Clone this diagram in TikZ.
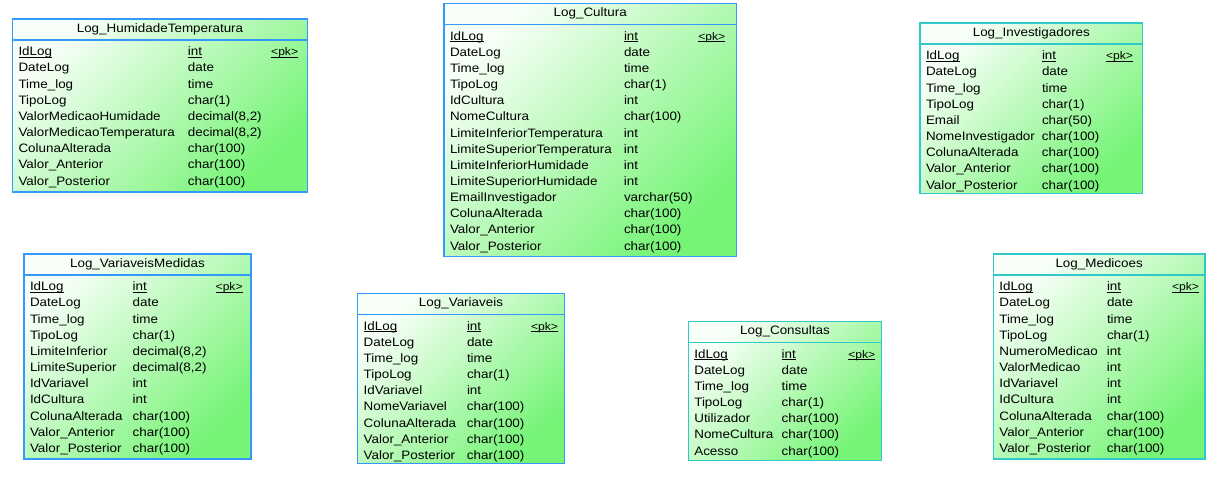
\documentclass[tikz,border=0pt]{standalone}
\usepackage{fontspec}
\setmainfont{Liberation Sans}[FakeStretch=1.1]
\usetikzlibrary{positioning}

\definecolor{tblblue}{RGB}{51,153,255}
\definecolor{tblteal}{RGB}{48,200,200}
\definecolor{tblgreen}{RGB}{118,244,118}
\definecolor{tblpale}{RGB}{248,255,248}
\setlength{\tabcolsep}{0pt}
\newcommand{\tblfont}{\fontsize{12.2}{16.15}\selectfont}
\newsavebox{\pkbox}
\newcommand{\pk}[1]{\leavevmode\sbox{\pkbox}{#1}\rlap{\rule[-2pt]{\wd\pkbox}{0.7pt}}\usebox{\pkbox}}
\newcommand{\pktag}{\pk{\fontsize{11}{16.15}\selectfont <pk>}}

\tikzset{
	tblbox/.style={draw=#1, line width=1.4pt, inner sep=0pt, outer sep=0pt, top color=tblpale, bottom color=tblgreen, shading angle=45, anchor=north west},
	tblhead/.style={inner sep=0pt, outer sep=0pt, minimum height=21pt, font=\tblfont},
	tblrule/.style={draw=#1, line width=1.4pt},
	tblrows/.style={inner sep=0pt, outer sep=0pt, anchor=north west, font=\tblfont, align=left},
}

% #1 name, #2 border, #3 top left, #4 width, #5 height, #6 title, #7 #8 column widths, #9 rows
\newcommand{\logtable}[9]{%
	\node[tblbox=#2, minimum width=#4, minimum height=#5] (#1) at (#3) {};
	\node[tblhead, minimum width=#4, anchor=north] (#1-head) at (#1.north) {#6};
	\draw[tblrule=#2] (#1-head.south west) -- (#1-head.south east);
	\node[tblrows] (#1-rows) at ([xshift=6pt, yshift=-4.5pt]#1-head.south west)
		{\begin{tabular}{@{}p{#7pt}p{#8pt}l@{}}#9\end{tabular}};
}

\begin{document}
\begin{tikzpicture}[x=1pt, y=-1pt]
	\useasboundingbox (0,0) rectangle (1225,490);

	\logtable{ht}{tblblue}{12.5,19}{295}{173}{Log\_HumidadeTemperatura}{169.4}{83.3}{%
		\pk{IdLog} & \pk{int} & \pktag\\
		DateLog & date & \\
		Time\_log & time & \\
		TipoLog & char(1) & \\
		ValorMedicaoHumidade & decimal(8,2) & \\
		ValorMedicaoTemperatura & decimal(8,2) & \\
		ColunaAlterada & char(100) & \\
		Valor\_Anterior & char(100) & \\
		Valor\_Posterior & char(100) & }

	\logtable{cul}{tblblue}{444,3.3}{292.5}{253.4}{Log\_Cultura}{174}{74.3}{%
		\pk{IdLog} & \pk{int} & \pktag\\
		DateLog & date & \\
		Time\_log & time & \\
		TipoLog & char(1) & \\
		IdCultura & int & \\
		NomeCultura & char(100) & \\
		LimiteInferiorTemperatura & int & \\
		LimiteSuperiorTemperatura & int & \\
		LimiteInferiorHumidade & int & \\
		LimiteSuperiorHumidade & int & \\
		EmailInvestigador & varchar(50) & \\
		ColunaAlterada & char(100) & \\
		Valor\_Anterior & char(100) & \\
		Valor\_Posterior & char(100) & }

	\logtable{inv}{tblteal}{920,23}{222.7}{170.3}{Log\_Investigadores}{116}{64}{%
		\pk{IdLog} & \pk{int} & \pktag\\
		DateLog & date & \\
		Time\_log & time & \\
		TipoLog & char(1) & \\
		Email & char(50) & \\
		NomeInvestigador & char(100) & \\
		ColunaAlterada & char(100) & \\
		Valor\_Anterior & char(100) & \\
		Valor\_Posterior & char(100) & }

	\logtable{vm}{tblblue}{24,254}{227}{205}{Log\_VariaveisMedidas}{102.7}{83}{%
		\pk{IdLog} & \pk{int} & \pktag\\
		DateLog & date & \\
		Time\_log & time & \\
		TipoLog & char(1) & \\
		LimiteInferior & decimal(8,2) & \\
		LimiteSuperior & decimal(8,2) & \\
		IdVariavel & int & \\
		IdCultura & int & \\
		ColunaAlterada & char(100) & \\
		Valor\_Anterior & char(100) & \\
		Valor\_Posterior & char(100) & }

	\logtable{var}{tblblue}{357.7,293.3}{206.6}{170}{Log\_Variaveis}{103.3}{64}{%
		\pk{IdLog} & \pk{int} & \pktag\\
		DateLog & date & \\
		Time\_log & time & \\
		TipoLog & char(1) & \\
		IdVariavel & int & \\
		NomeVariavel & char(100) & \\
		ColunaAlterada & char(100) & \\
		Valor\_Anterior & char(100) & \\
		Valor\_Posterior & char(100) & }

	\logtable{con}{tblteal}{688.3,321.3}{193.4}{139.4}{Log\_Consultas}{87.4}{66.6}{%
		\pk{IdLog} & \pk{int} & \pktag\\
		DateLog & date & \\
		Time\_log & time & \\
		TipoLog & char(1) & \\
		Utilizador & char(100) & \\
		NomeCultura & char(100) & \\
		Acesso & char(100) & }

	\logtable{med}{tblteal}{993.3,254}{211.7}{205}{Log\_Medicoes}{107.7}{65}{%
		\pk{IdLog} & \pk{int} & \pktag\\
		DateLog & date & \\
		Time\_log & time & \\
		TipoLog & char(1) & \\
		NumeroMedicao & int & \\
		ValorMedicao & int & \\
		IdVariavel & int & \\
		IdCultura & int & \\
		ColunaAlterada & char(100) & \\
		Valor\_Anterior & char(100) & \\
		Valor\_Posterior & char(100) & }
\end{tikzpicture}
\end{document}
